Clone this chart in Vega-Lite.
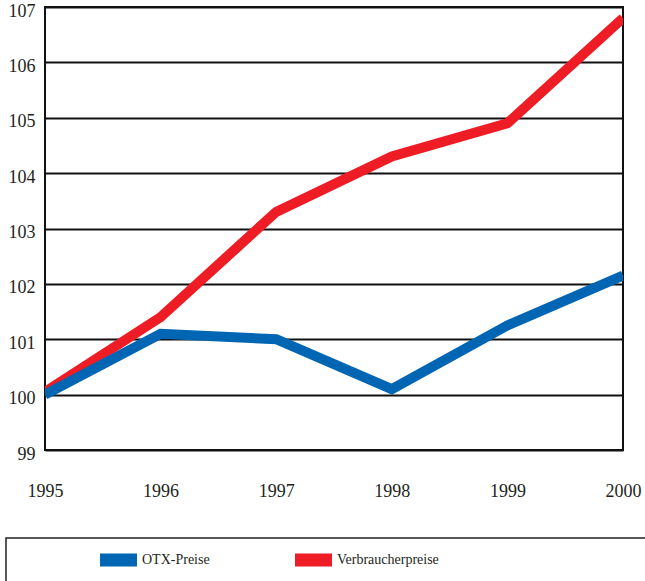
{
  "$schema": "https://vega.github.io/schema/vega-lite/v6.json",
  "width": 578,
  "height": 443,
  "autosize": {"type": "none"},
  "padding": {"left": 45, "top": 7, "right": 22, "bottom": 131},
  "background": "white",
  "config": {
    "view": {"stroke": "#111111", "strokeWidth": 2},
    "font": "Liberation Serif"
  },
  "data": {
    "values": [
      {"year": 1995, "series": "Verbraucherpreise", "value": 100.05},
      {"year": 1996, "series": "Verbraucherpreise", "value": 101.4},
      {"year": 1997, "series": "Verbraucherpreise", "value": 103.3},
      {"year": 1998, "series": "Verbraucherpreise", "value": 104.3},
      {"year": 1999, "series": "Verbraucherpreise", "value": 104.9},
      {"year": 2000, "series": "Verbraucherpreise", "value": 106.8},
      {"year": 1995, "series": "OTX-Preise", "value": 100.0},
      {"year": 1996, "series": "OTX-Preise", "value": 101.1},
      {"year": 1997, "series": "OTX-Preise", "value": 101.0},
      {"year": 1998, "series": "OTX-Preise", "value": 100.1},
      {"year": 1999, "series": "OTX-Preise", "value": 101.25},
      {"year": 2000, "series": "OTX-Preise", "value": 102.15}
    ]
  },
  "mark": {"type": "line", "strokeWidth": 10, "clip": true, "strokeJoin": "miter", "strokeCap": "butt"},
  "encoding": {
    "x": {
      "field": "year",
      "type": "quantitative",
      "scale": {"domain": [1995, 2000], "nice": false, "zero": false},
      "axis": {
        "title": null,
        "values": [1995, 1996, 1997, 1998, 1999, 2000],
        "format": "d",
        "grid": false,
        "domain": false,
        "ticks": false,
        "labelFont": "Liberation Serif",
        "labelFontSize": 18,
        "labelColor": "#231F20",
        "labelBaseline": "middle",
        "labelPadding": 41,
        "labelFlush": false,
        "labelOverlap": false
      }
    },
    "y": {
      "field": "value",
      "type": "quantitative",
      "scale": {"domain": [99, 107], "nice": false, "zero": false},
      "axis": {
        "title": null,
        "values": [99, 100, 101, 102, 103, 104, 105, 106, 107],
        "grid": true,
        "gridColor": "#111111",
        "gridWidth": 2,
        "gridOpacity": 1,
        "domain": false,
        "ticks": false,
        "labelFont": "Liberation Serif",
        "labelFontSize": 18,
        "labelColor": "#231F20",
        "labelBaseline": "middle",
        "labelPadding": 10,
        "labelOffset": 4,
        "labelFlush": false,
        "labelOverlap": false
      }
    },
    "color": {
      "field": "series",
      "type": "nominal",
      "scale": {"domain": ["OTX-Preise", "Verbraucherpreise"], "range": ["#0066B3", "#EE1C25"]},
      "legend": {
        "title": "\u00a0",
        "titleOrient": "right",
        "titlePadding": 230,
        "titleFontSize": 10,
        "orient": "none",
        "legendX": -39,
        "legendY": 531,
        "direction": "horizontal",
        "columns": 2,
        "columnPadding": 0,
        "padding": 9,
        "clipHeight": 26,
        "strokeColor": "#231F20",
        "symbolType": "M-1,-0.35L1,-0.35L1,0.35L-1,0.35Z",
        "symbolSize": 1369,
        "symbolStrokeWidth": 0,
        "symbolOpacity": 1,
        "symbolOffset": 85,
        "labelOffset": 5,
        "labelFont": "Liberation Serif",
        "labelFontSize": 14,
        "labelColor": "#231F20",
        "labelLimit": 300,
        "encode": {
          "legend": {"update": {"strokeWidth": {"value": 1.5}}},
          "symbols": {"update": {"fill": {"scale": "color", "field": "value"}, "fillOpacity": {"value": 1}, "strokeWidth": {"value": 0}}}
        }
      }
    }
  }
}
